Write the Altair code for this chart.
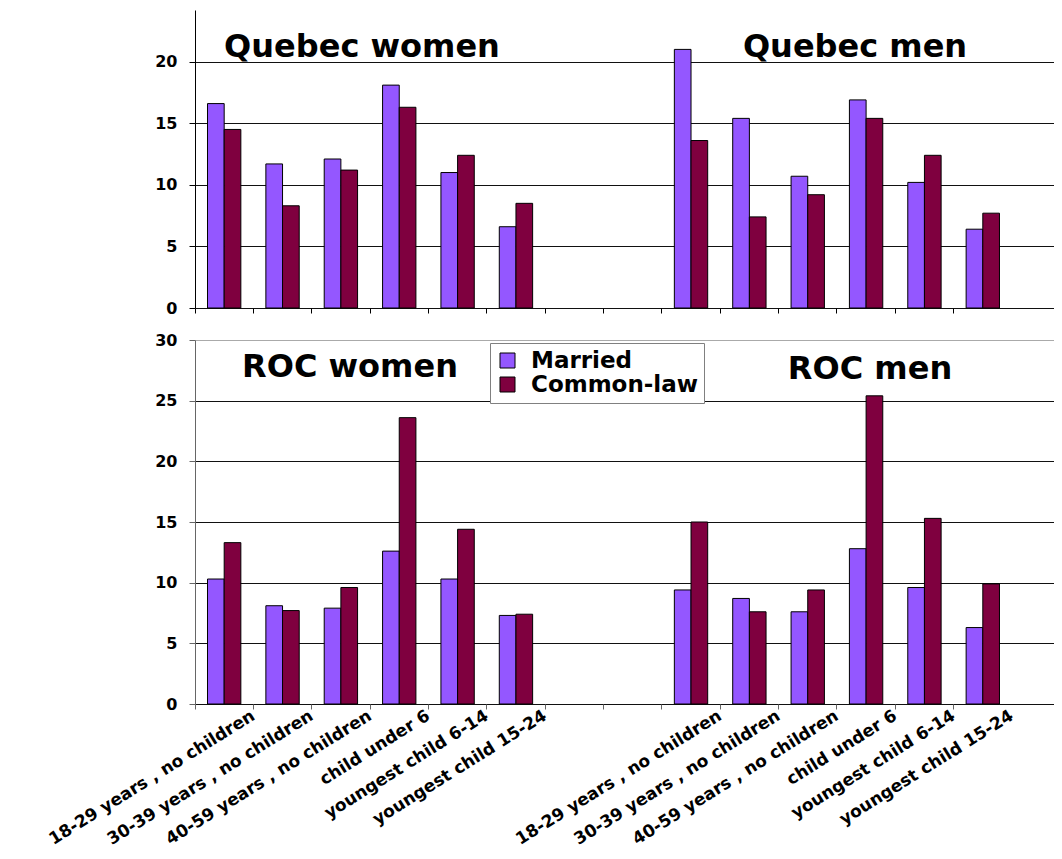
import altair as alt
import pandas as pd

categories = [
    "18-29 years , no children",
    "30-39 years , no children",
    "40-59 years , no children",
    "child under 6",
    "youngest child 6-14",
    "youngest child 15-24",
]
statuses = ["Married", "Common-law"]
status_colors = ["#9457FF", "#7F003F"]

quebec_women_married = [16.6, 11.7, 12.1, 18.1, 11.0, 6.6]
quebec_women_common = [14.5, 8.3, 11.2, 16.3, 12.4, 8.5]
quebec_men_married = [21.0, 15.4, 10.7, 16.9, 10.2, 6.4]
quebec_men_common = [13.6, 7.4, 9.2, 15.4, 12.4, 7.7]

roc_women_married = [10.3, 8.1, 7.9, 12.6, 10.3, 7.3]
roc_women_common = [13.3, 7.7, 9.6, 23.6, 14.4, 7.4]
roc_men_married = [9.4, 8.7, 7.6, 12.8, 9.6, 6.3]
roc_men_common = [15.0, 7.6, 9.4, 25.4, 15.3, 9.9]

quebec_ticks = [0, 5, 10, 15, 20]
roc_ticks = [0, 5, 10, 15, 20, 25, 30]

women_slots = ["W|" + c for c in categories]
men_slots = ["M|" + c for c in categories]
slots = women_slots + ["G|1", "G|2"] + men_slots

FONT = "DejaVu Sans"
W = 859
OUTER = 0.36
STEP = W / (len(slots) + 2 * OUTER)


def frame(wm, wc, mm, mc):
    rows = []
    for sl, m, c in list(zip(women_slots, wm, wc)) + list(zip(men_slots, mm, mc)):
        rows.append({"slot": sl, "status": "Married", "value": m})
        rows.append({"slot": sl, "status": "Common-law", "value": c})
    return pd.DataFrame(rows)


def title_layer(text, px, py):
    return alt.Chart(pd.DataFrame({"label": [text]})).mark_text(
        font=FONT, fontSize=32, fontWeight="bold", color="black",
        align="center", baseline="middle"
    ).encode(text="label:N", x=alt.value(px), y=alt.value(py))


def panel(df, ymax, yvals, height, show_labels, axis_color, legend, titles, top_grid):
    x_axis = alt.Axis(
        title=None, bandPosition=0, labels=show_labels,
        labelExpr="indexof(datum.value, 'G|') == 0 ? '' : substring(datum.value, 2)",
        labelAngle=328, labelAlign="right", labelBaseline="middle",
        labelOffset=STEP / 2, labelFontSize=17, labelFont=FONT, labelFontWeight="bold",
        labelColor="black", labelPadding=5, labelLimit=400, labelOverlap=False,
        tickSize=5, tickColor=axis_color, domain=False, grid=False,
    )
    y_axis = alt.Axis(
        title=None, values=yvals, grid=True,
        gridColor=alt.condition(f"datum.value == {ymax}", alt.value(top_grid), alt.value("#111111")),
        gridWidth=1,
        domainColor=axis_color, tickColor=axis_color, tickSize=6,
        labelFont=FONT, labelFontSize=16, labelFontWeight="bold",
        labelColor="black", labelPadding=12,
    )
    bars = alt.Chart(df).mark_bar(stroke="black", strokeWidth=1).encode(
        x=alt.X("slot:N", sort=slots,
                scale=alt.Scale(domain=slots, paddingInner=0, paddingOuter=OUTER, align=0),
                axis=x_axis),
        xOffset=alt.XOffset("status:N", sort=statuses,
                            scale=alt.Scale(domain=statuses, paddingInner=0, paddingOuter=0.75)),
        y=alt.Y("value:Q", scale=alt.Scale(domain=[0, ymax], nice=False, zero=True), axis=y_axis),
        color=alt.Color("status:N", sort=statuses,
                        scale=alt.Scale(domain=statuses, range=status_colors),
                        legend=legend),
    )
    layers = [bars] + [title_layer(t, px, py) for (t, px, py) in titles]
    return alt.layer(*layers).properties(width=W, height=height)


legend = alt.Legend(
    title=None, orient="none", legendX=295, legendY=3, direction="vertical",
    fillColor="white", strokeColor="#808080", padding=6,
    symbolType="square", symbolSize=225, symbolStrokeColor="black",
    symbolStrokeWidth=1, labelFontSize=23, labelFont=FONT, labelLimit=400,
    labelFontWeight="bold", labelOffset=12, rowPadding=0, labelColor="black",
)

top = panel(
    frame(quebec_women_married, quebec_women_common, quebec_men_married, quebec_men_common),
    24.2, quebec_ticks, 298, False, "black", None,
    [("Quebec women", 167, 37), ("Quebec men", 660, 37)], "#111111",
)
bottom = panel(
    frame(roc_women_married, roc_women_common, roc_men_married, roc_men_common),
    30, roc_ticks, 364, True, "#666666", legend,
    [("ROC women", 155, 27), ("ROC men", 675, 29)], "#aaaaaa",
)

chart = alt.vconcat(top, bottom, spacing=16).resolve_scale(color="independent").properties(
    padding={"left": 37, "top": 2, "right": 0, "bottom": 0},
    background="white",
).configure_view(stroke=None)

chart.save("out.html", embed_options={"renderer": "svg", "actions": False})
